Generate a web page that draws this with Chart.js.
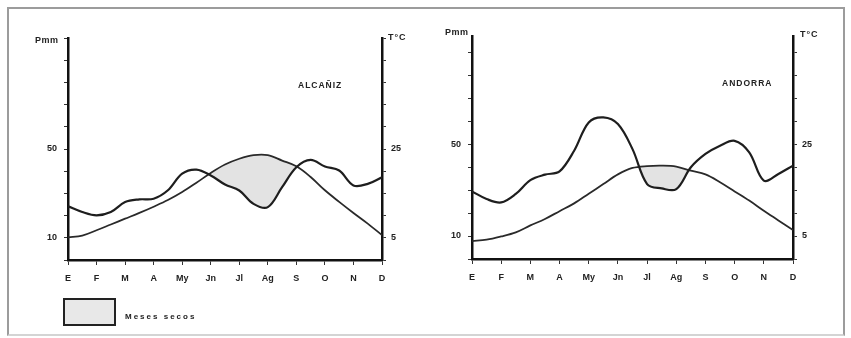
<!DOCTYPE html>
<html>
<head>
<meta charset="utf-8">
<script src="https://cdn.jsdelivr.net/npm/chart.js@4"></script>
<style>
body{margin:0;background:#fff;width:851px;height:338px;position:relative;overflow:hidden;font-family:"Liberation Sans",Arial,sans-serif;color:#222}
.frame{position:absolute;left:7px;top:7px;width:834px;height:325px;border:2px solid #9c9c9c;border-bottom-color:#d4d4d4}
.lbl{position:absolute;font-weight:bold;white-space:nowrap;line-height:1}
canvas{position:absolute}
.key{position:absolute;left:63px;top:298px;width:49px;height:24px;border:2px solid #222;background:#e8e8e8}
</style>
</head>
<body>
<div class="frame"></div>

<canvas id="alcaniz" width="400" height="280" style="left:20px;top:20px"></canvas>
<canvas id="andorra" width="410" height="285" style="left:430px;top:15px"></canvas>

<div class="lbl" style="left:35px;top:36px;font-size:9px;letter-spacing:0.5px">Pmm</div>
<div class="lbl" style="left:388px;top:33px;font-size:9px;letter-spacing:1px">T°C</div>
<div class="lbl" style="left:298px;top:81px;font-size:8.5px;letter-spacing:1px">ALCAÑIZ</div>

<div class="lbl" style="left:445px;top:28px;font-size:9px;letter-spacing:0.5px">Pmm</div>
<div class="lbl" style="left:800px;top:30px;font-size:9px;letter-spacing:1px">T°C</div>
<div class="lbl" style="left:722px;top:79px;font-size:8.5px;letter-spacing:1px">ANDORRA</div>

<div class="key"></div>
<div class="lbl" style="left:125px;top:313px;font-size:8px;letter-spacing:2px">Meses secos</div>

<script>
// months on the x axis
const months = ['E','F','M','A','My','Jn','Jl','Ag','S','O','N','D'];
// readings taken every half month (0 = E ... 11 = D)
const steps = [0,0.5,1,1.5,2,2.5,3,3.5,4,4.5,5,5.5,6,6.5,7,7.5,8,8.5,9,9.5,10,10.5,11];

// Alcañiz: precipitation (mm) and temperature (°C)
const alcanizP = [24.2,21.6,20.1,21.6,26.1,27.3,27.6,31.4,38.9,40.7,38.1,34.0,31.3,25.3,23.8,32.8,41.8,45.1,42.1,40.3,33.6,34.3,37.3];
const alcanizT = [5.1,5.5,6.7,8.0,9.3,10.6,12.0,13.5,15.3,17.4,19.6,21.5,22.8,23.6,23.6,22.4,21.1,18.7,15.7,13.1,10.6,8.2,5.6];

// Andorra: precipitation (mm) and temperature (°C)
const andorraP = [29.4,26.1,24.6,28.3,34.3,36.7,38.1,47.1,59.4,61.6,58.7,47.8,32.6,30.7,30.4,39.9,45.7,49.3,51.4,46.4,34.1,37.0,40.6];
const andorraT = [3.9,4.2,4.9,5.8,7.3,8.7,10.4,12.1,14.2,16.3,18.4,19.8,20.2,20.3,20.1,19.2,18.4,16.7,14.7,12.7,10.5,8.4,6.3];

// labelled ticks
const pLabels = [10, 50];
const tLabels = [5, 25];

function pts(vals) {
  return vals.map((v, i) => ({x: steps[i], y: v}));
}

function makeChart(id, p, t, o) {
  var tickFont = {family: 'Liberation Sans', size: 9, weight: 'bold'};
  var grid = {drawOnChartArea: false, drawTicks: true, tickLength: 4, color: '#333', lineWidth: 1};
  var border = {display: true, color: '#111', width: 2.5};
  return new Chart(document.getElementById(id), {
    type: 'line',
    data: {
      datasets: [{
        label: 'P',
        data: pts(p),
        yAxisID: 'y',
        borderColor: '#1e1e1e',
        borderWidth: 2.2,
        pointRadius: 0,
        tension: 0.35,
        fill: false
      }, {
        label: 'T',
        data: pts(t),
        yAxisID: 'y1',
        borderColor: '#2a2a2a',
        borderWidth: 1.8,
        pointRadius: 0,
        tension: 0.35,
        fill: {target: 0, above: '#e3e3e3', below: 'rgba(0,0,0,0)'}
      }]
    },
    options: {
      responsive: false,
      animation: false,
      layout: {padding: {top: o.top, left: 0, right: 0, bottom: 0}},
      plugins: {legend: {display: false}, tooltip: {enabled: false}},
      scales: {
        x: {
          type: 'linear', min: 0, max: 11,
          border: border,
          grid: {drawOnChartArea: false, drawTicks: true, tickLength: 5, color: '#333'},
          ticks: {
            stepSize: 1, autoSkip: false, maxRotation: 0, padding: 8,
            color: '#222', font: tickFont,
            callback: v => months[v] || ''
          },
          afterFit: s => { s.height = o.xh; }
        },
        y: {
          position: 'left', min: 0, max: o.pmax,
          border: border, grid: grid,
          ticks: {
            stepSize: 10, includeBounds: false, padding: 7,
            color: '#222', font: tickFont,
            callback: v => pLabels.includes(v) ? v : ''
          },
          afterFit: s => { s.width = o.lw; }
        },
        y1: {
          position: 'right', min: 0, max: o.pmax / 2,
          border: border, grid: grid,
          ticks: {
            stepSize: 5, includeBounds: false, padding: 5,
            color: '#222', font: tickFont,
            callback: v => tLabels.includes(v) ? v : ''
          },
          afterFit: s => { s.width = o.rw; }
        }
      }
    }
  });
}

makeChart('alcaniz', alcanizP, alcanizT, {top: 18, xh: 40, lw: 48, rw: 38, pmax: 100});
makeChart('andorra', andorraP, andorraT, {top: 21, xh: 41, lw: 42, rw: 47, pmax: 97});
</script>
</body>
</html>
